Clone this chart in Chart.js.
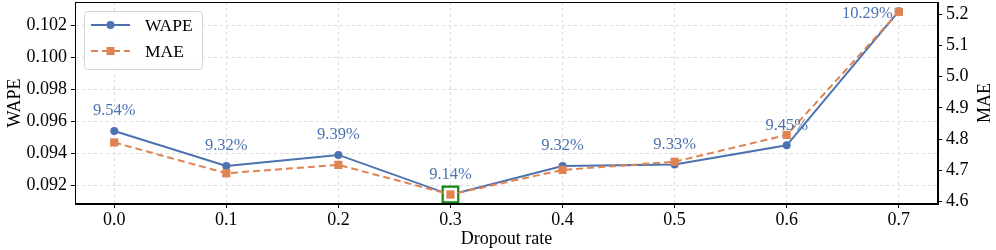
<!DOCTYPE html>
<html>
<head>
    <title>Dropout rate vs WAPE / MAE</title>
    <script src="https://cdn.jsdelivr.net/npm/chart.js"></script>
    <style>
        body { margin: 0; background: #fff; }
        #box { width: 996px; height: 250px; }
    </style>
</head>
<body>
    <div id="box"><canvas id="myChart" width="996" height="250"></canvas></div>

    <script>
        // 數據
        const dropout = [0.0, 0.1, 0.2, 0.3, 0.4, 0.5, 0.6, 0.7];
        const wape = [0.0954, 0.0932, 0.0939, 0.0914, 0.0932, 0.0933, 0.0945, 0.1029];
        const mae = [4.789, 4.690, 4.717, 4.622, 4.701, 4.727, 4.813, 5.208];
        const xTicks = [0.0, 0.1, 0.2, 0.3, 0.4, 0.5, 0.6, 0.7];
        const wapeTicks = [0.092, 0.094, 0.096, 0.098, 0.100, 0.102];
        const maeTicks = [4.6, 4.7, 4.8, 4.9, 5.0, 5.1, 5.2];

        const blue = '#4c72b0';
        const orange = '#dd8452';
        const serif = "'Liberation Serif', 'DejaVu Serif', serif";

        Chart.defaults.font.family = serif;
        Chart.defaults.color = '#000';

        // 最佳點 (MAE 最小)
        const best = mae.indexOf(Math.min(...mae));

        // 百分比標籤
        const labelPlugin = {
            id: 'pctLabels',
            afterDatasetsDraw(chart) {
                const ctx = chart.ctx;
                const meta = chart.getDatasetMeta(0);
                ctx.save();
                ctx.font = '16.5px ' + serif;
                ctx.fillStyle = blue;
                ctx.textBaseline = 'middle';
                meta.data.forEach((pt, i) => {
                    const txt = (wape[i] * 100).toFixed(2) + '%';
                    if (i === wape.length - 1) {
                        ctx.textAlign = 'right';
                        ctx.fillText(txt, pt.x - 6, pt.y + 2);
                    } else {
                        ctx.textAlign = 'center';
                        ctx.fillText(txt, pt.x, pt.y - 20);
                    }
                });
                ctx.restore();
            }
        };

        // 外框 + 圖例 + 右側標題
        const framePlugin = {
            id: 'frameLegend',
            afterDraw(chart) {
                const ctx = chart.ctx;
                const a = chart.chartArea;
                ctx.save();
                ctx.strokeStyle = '#000';
                ctx.lineWidth = 1;
                ctx.strokeRect(a.left + 0.5, a.top + 0.5, a.right - a.left - 1, a.bottom - a.top - 1);

                // right axis title, rotated like the left one
                ctx.save();
                ctx.translate(985, (a.top + a.bottom) / 2);
                ctx.rotate(-Math.PI / 2);
                ctx.fillStyle = '#000';
                ctx.font = '18px ' + serif;
                ctx.textAlign = 'center';
                ctx.textBaseline = 'middle';
                ctx.fillText('MAE', 0, 0);
                ctx.restore();

                // legend box
                const bx = 84, by = 11, bw = 118, bh = 58;
                ctx.beginPath();
                ctx.roundRect(bx + 0.5, by + 0.5, bw, bh, 3);
                ctx.fillStyle = 'rgba(255,255,255,0.85)';
                ctx.fill();
                ctx.strokeStyle = '#d4d4d4';
                ctx.stroke();

                const rows = [
                    { y: 25, color: blue, dash: [], label: 'WAPE', marker: 'circle' },
                    { y: 51, color: orange, dash: [7, 4], label: 'MAE', marker: 'rect' }
                ];
                rows.forEach(r => {
                    ctx.strokeStyle = r.color;
                    ctx.lineWidth = 2;
                    ctx.setLineDash(r.dash);
                    ctx.beginPath();
                    ctx.moveTo(91, r.y);
                    ctx.lineTo(130, r.y);
                    ctx.stroke();
                    ctx.setLineDash([]);
                    ctx.fillStyle = r.color;
                    if (r.marker === 'circle') {
                        ctx.beginPath();
                        ctx.arc(110.5, r.y, 4, 0, Math.PI * 2);
                        ctx.fill();
                    } else {
                        ctx.fillRect(106.5, r.y - 4, 8, 8);
                    }
                    ctx.fillStyle = '#000';
                    ctx.font = '17.5px ' + serif;
                    ctx.textAlign = 'left';
                    ctx.textBaseline = 'middle';
                    ctx.fillText(r.label, 145, r.y + 1);
                });
                ctx.restore();
            }
        };

        const fixTicks = (vals) => (axis) => { axis.ticks = vals.map(v => ({ value: v })); };
        const noPad = (s) => { s.paddingTop = 0; s.paddingBottom = 0; s.paddingLeft = 0; s.paddingRight = 0; };

        const ctx = document.getElementById('myChart').getContext('2d');
        const myChart = new Chart(ctx, {
            type: 'line',
            data: {
                datasets: [
                    {
                        label: 'WAPE',
                        data: dropout.map((x, i) => ({ x: x, y: wape[i] })),
                        yAxisID: 'y',
                        borderColor: blue,
                        backgroundColor: blue,
                        borderWidth: 2,
                        pointStyle: 'circle',
                        pointRadius: 4,
                        pointBorderWidth: 0,
                        order: 2
                    },
                    {
                        label: 'best',
                        data: [{ x: dropout[best], y: mae[best] }],
                        yAxisID: 'y1',
                        showLine: false,
                        pointStyle: 'rect',
                        pointRadius: 11,
                        pointBorderWidth: 2.2,
                        borderColor: '#118811',
                        backgroundColor: '#ffffff',
                        order: 1
                    },
                    {
                        label: 'MAE',
                        data: dropout.map((x, i) => ({ x: x, y: mae[i] })),
                        yAxisID: 'y1',
                        borderColor: orange,
                        backgroundColor: orange,
                        borderWidth: 2,
                        borderDash: [7, 4],
                        pointStyle: 'rect',
                        pointRadius: 5.8,
                        pointBorderWidth: 0,
                        order: 0
                    }
                ]
            },
            options: {
                responsive: false,
                animation: false,
                clip: false,
                layout: { autoPadding: false, padding: { top: 2, left: 0, right: 0, bottom: 0 } },
                plugins: {
                    legend: { display: false },
                    tooltip: { enabled: false }
                },
                scales: {
                    x: {
                        type: 'linear',
                        min: -0.035,
                        max: 0.735,
                        afterBuildTicks: fixTicks(xTicks),
                        afterFit: (s) => { s.height = 46; noPad(s); },
                        ticks: {
                            font: { size: 18 },
                            padding: 1,
                            callback: (v) => v.toFixed(1)
                        },
                        grid: { color: '#dcdcdc', tickColor: '#000', tickLength: 4 },
                        border: { color: '#000', dash: [3, 3] },
                        title: { display: true, text: 'Dropout rate', font: { size: 18 }, padding: 0 }
                    },
                    y: {
                        position: 'left',
                        min: 0.090825,
                        max: 0.103475,
                        afterBuildTicks: fixTicks(wapeTicks),
                        afterFit: (s) => { s.width = 75; noPad(s); },
                        ticks: {
                            font: { size: 18 },
                            padding: 4,
                            callback: (v) => v.toFixed(3)
                        },
                        grid: { color: '#dcdcdc', tickColor: '#000', tickLength: 4 },
                        border: { color: '#000', dash: [3, 3] },
                        title: { display: true, text: 'WAPE', font: { size: 18 }, padding: { top: 4, bottom: 0 } }
                    },
                    y1: {
                        position: 'right',
                        min: 4.5915,
                        max: 5.2395,
                        afterBuildTicks: fixTicks(maeTicks),
                        afterFit: (s) => { s.width = 58; noPad(s); },
                        ticks: {
                            font: { size: 18 },
                            padding: 4,
                            callback: (v) => v.toFixed(1)
                        },
                        grid: { drawOnChartArea: false, tickColor: '#000', tickLength: 4 },
                        border: { color: '#000' },
                        title: { display: false }
                    }
                }
            },
            plugins: [labelPlugin, framePlugin]
        });
    </script>
</body>
</html>
